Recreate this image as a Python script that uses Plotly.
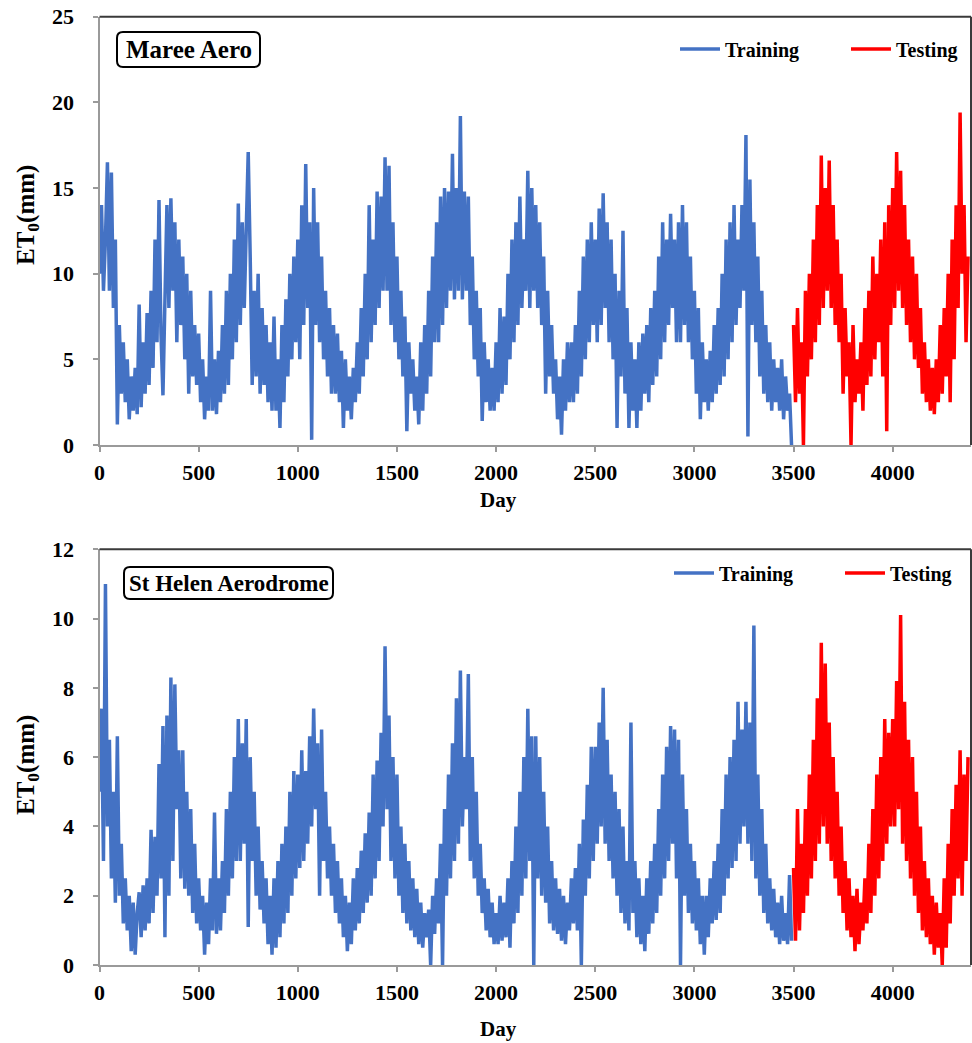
import plotly.graph_objects as go

W, H = 972, 1043

# ---------------- data (one value every 10 days) ----------------
STEP_DAYS = 10
TEST_START = 3500

maree_train = [
    10, 14, 9, 12, 16.5, 9, 15.9, 8, 12, 1.2,
    7, 3, 6, 2.5, 5, 1.5, 4, 2, 4.5, 1.8,
    8.2, 2.2, 6, 3, 7.7, 3.5, 9, 4.5, 12, 6,
    14.3, 6.5, 2.9, 7.5, 14, 8, 14.4, 9, 13, 6,
    12, 7, 11, 5, 10, 3, 9, 4, 7, 3.5,
    6.5, 2.5, 5, 1.5, 4, 2, 9, 2, 5, 1.8,
    5.5, 2.5, 7, 3, 9, 3.5, 10, 5, 12, 6,
    14.1, 7, 13, 8, 13.5, 17.1, 11, 3.5, 9, 4,
    10, 3, 8, 3.5, 7, 2.5, 6, 2, 7.5, 2,
    5, 1, 7, 2.5, 8.5, 4, 10, 5, 11, 6,
    12, 5, 14, 7, 16.4, 8, 13, 0.3, 15, 7,
    13, 6, 11, 5, 9, 4, 8, 3, 7, 3,
    6.5, 2.5, 5.5, 1, 5, 2, 4, 1.5, 4.5, 2.5,
    6, 3, 8, 4, 10, 5, 14, 6, 12, 7,
    14.8, 8, 14.5, 9, 16.8, 9, 16.3, 7, 13, 6,
    11, 5, 9, 4, 7.5, 0.8, 6, 3, 5, 2,
    4, 1.2, 6, 2, 7, 3, 9, 4, 11, 6,
    13, 6, 14.5, 7, 15, 8, 14.8, 9, 17, 8.5,
    15, 9, 19.2, 8.5, 14.8, 9, 14.5, 7, 11, 5,
    9, 4, 8, 1.4, 6, 2.5, 5, 2, 4.5, 2,
    6, 2.5, 8, 3, 7.5, 3.5, 10, 5, 12, 6,
    13, 7, 14.5, 8, 12, 9, 16, 8, 15, 9,
    14, 8, 13, 7, 11, 3, 9, 4, 7, 3,
    5, 1.5, 4, 0.6, 5, 2, 6, 2.5, 6, 2.5,
    7, 3, 9, 4, 11, 5, 12, 6, 13, 7,
    12, 6, 13.8, 7, 14.7, 8, 13, 6, 12, 5,
    10, 1, 9, 4, 12.5, 3, 8, 1, 6, 2,
    5, 1, 6, 2, 6.5, 3, 7, 2.5, 8, 3.5,
    9, 4, 11, 5, 13, 6, 12, 7, 13.5, 8,
    12, 6, 13, 6, 14, 7, 13, 6, 11, 5,
    9, 3, 8, 1.5, 6, 2.5, 5, 2, 5.5, 2.5,
    7, 3, 8, 3.5, 10, 4, 12, 5, 13, 6,
    14, 7, 12, 8, 14, 9, 18.1, 0.5, 15.5, 7,
    13, 6, 11, 4, 9, 3, 7, 2.5, 6, 2,
    5, 2.5, 4.5, 2, 5, 1.5, 4, 2, 3, 0,
]

maree_test = [
    7, 2.5, 8, 3, 6, 0, 9, 4, 10, 5,
    12, 6, 14, 7, 16.9, 8, 15, 9, 16.6, 8,
    14, 7, 12, 6, 10, 3, 8, 4, 6, 0,
    7, 2.5, 5, 3, 6, 2, 8, 3.5, 9, 4,
    11, 5, 10, 6, 12, 4, 13, 0.8, 14, 7,
    15, 8, 17.1, 9, 16, 8, 14, 7, 12, 6,
    11, 5, 10, 4.5, 8, 3, 6, 2.5, 5, 2,
    4.5, 1.8, 5, 2.5, 7, 3, 8, 4, 10, 2.5,
    12, 5, 14, 8, 19.4, 10, 14, 6, 11,
]

helen_train = [
    5, 7.4, 3, 11, 4, 6.5, 2.5, 5, 1.8, 6.6,
    2, 3.5, 1.2, 2.5, 1, 2, 0.4, 1.8, 0.3, 1.5,
    2.1, 0.8, 2.3, 1, 2.5, 1.2, 3.9, 1.5, 3.7, 2,
    5.8, 2.5, 6.9, 0.8, 7.2, 2, 8.3, 3, 8.1, 4.5,
    6.2, 2.5, 6.2, 2.2, 5, 2, 4.5, 1.5, 3.5, 1.2,
    2.5, 1, 2, 0.3, 1.8, 0.6, 2.5, 1, 4.4, 0.9,
    2.5, 1, 3, 1.5, 4.5, 2, 5, 2.5, 6, 3,
    7.1, 3, 6.4, 3.5, 7.1, 1.1, 6, 3, 5, 2,
    4, 1.6, 3, 1.2, 2.5, 0.6, 2, 0.3, 2.5, 0.5,
    3, 0.8, 3.5, 1.2, 4, 1.5, 5, 2, 5.6, 2.5,
    5.5, 2.8, 6.2, 3, 5.6, 3.5, 6.6, 4, 7.4, 4.5,
    6.4, 2, 6.8, 3, 5, 2.5, 4, 2, 3.5, 1.5,
    3, 1.2, 2.5, 0.8, 2, 0.4, 1.8, 0.6, 2.5, 1,
    2.8, 1.2, 3.3, 1.5, 3.8, 1.8, 4.4, 2, 5.5, 2.5,
    5.9, 3, 6.7, 4, 9.2, 4.5, 7.2, 3, 6, 2.5,
    5.5, 2, 4, 1.5, 3.5, 1.2, 3, 1, 2.5, 0.8,
    2.2, 0.6, 1.8, 0.5, 1.5, 0.8, 1.6, 0, 2, 0.9,
    2.5, 1.2, 3.5, 0, 4.5, 2, 5.5, 2.5, 6.4, 3,
    7.7, 3.5, 8.5, 4, 6, 4.5, 8.4, 3, 6, 2.5,
    5, 2, 3.5, 1.5, 2.5, 1, 2.2, 0.8, 1.8, 0.6,
    1.5, 0.6, 2, 0.7, 1.8, 0.8, 2.5, 0.5, 3, 1.2,
    4, 1.5, 5, 2, 6, 2.5, 7.4, 3, 6.6, 0,
    6.6, 2.5, 6, 2, 5, 1.8, 4, 1.2, 3, 1,
    2.5, 0.9, 2.2, 0.7, 2, 0.6, 1.8, 1, 2.5, 1.2,
    2.8, 1, 3.5, 0, 4.2, 2, 5.2, 2.5, 6.3, 3,
    6.3, 3.5, 7, 4, 8, 3.5, 6.5, 3, 5.5, 2.5,
    5, 2, 4.5, 1.5, 4, 1.2, 3, 1, 7, 1.5,
    3, 0.8, 2.5, 0.6, 2, 0.4, 2.5, 0.9, 3, 1.2,
    3.5, 1.5, 4.5, 2, 5.5, 2.5, 6.3, 3, 6.9, 3.5,
    6.8, 2.5, 6.5, 0, 5.5, 2, 4.5, 1.5, 3.5, 1.2,
    3, 1, 2.5, 0.6, 2, 0.3, 2, 0.8, 2.5, 1.2,
    3, 1.3, 3.5, 1.5, 4.5, 2, 5.5, 2.5, 6, 2.8,
    6.5, 3, 7.6, 3.5, 6.8, 4, 7.6, 3.5, 7, 3,
    9.8, 2.5, 5.5, 2, 4.5, 1.5, 3.5, 1.2, 2.5, 1,
    2.2, 0.8, 1.8, 0.6, 2, 0.7, 1.5, 0.6, 2.6, 0.7,
]

helen_test = [
    2.8, 0.7, 4.5, 1, 3.5, 1.5, 4.5, 2, 5.5, 2.5,
    6.5, 3, 7.7, 3.5, 9.3, 4, 8.7, 3.5, 7, 3,
    6, 2.5, 5, 2, 4, 1.5, 3, 1, 2.5, 0.8,
    2, 0.4, 2.2, 0.6, 1.8, 1, 2.5, 1.2, 3.5, 1.5,
    4.5, 2, 5.5, 2.5, 6, 3, 7.1, 3.5, 6.7, 4,
    7.1, 4, 8.2, 4.5, 10.1, 3.5, 7.6, 3, 6.5, 2.5,
    6, 2, 5, 1.5, 4, 1, 3, 0.8, 2.5, 0.6,
    2, 0.3, 1.8, 0.5, 1.5, 0, 2.5, 0.5, 3.5, 1.2,
    4.5, 2, 5.2, 2.5, 6.2, 2, 5.5, 3, 6,
]

station_names = ["Maree Aero", "St Helen Aerodrome"]
x_ticks = [0, 500, 1000, 1500, 2000, 2500, 3000, 3500, 4000]
y_ticks_top = [0, 5, 10, 15, 20, 25]
y_ticks_bottom = [0, 2, 4, 6, 8, 10, 12]

train_days = list(range(0, len(maree_train) * STEP_DAYS, STEP_DAYS))
test_days = list(range(TEST_START, TEST_START + len(maree_test) * STEP_DAYS, STEP_DAYS))

BLUE = "#4472C4"
RED = "#FF0000"
FONT = "Liberation Serif"
LW = 3.5


def px(x):
    return x / W


def py(y):
    return 1 - y / H


fig = go.Figure()

# top panel
fig.add_trace(go.Scatter(x=train_days, y=maree_train, mode="lines", name="Training",
                         line=dict(color=BLUE, width=LW), xaxis="x", yaxis="y", legend="legend"))
fig.add_trace(go.Scatter(x=test_days, y=maree_test, mode="lines", name="Testing",
                         line=dict(color=RED, width=LW), xaxis="x", yaxis="y", legend="legend"))
# bottom panel
fig.add_trace(go.Scatter(x=train_days, y=helen_train, mode="lines", name="Training",
                         line=dict(color=BLUE, width=LW), xaxis="x2", yaxis="y2", legend="legend2"))
fig.add_trace(go.Scatter(x=test_days, y=helen_test, mode="lines", name="Testing",
                         line=dict(color=RED, width=LW), xaxis="x2", yaxis="y2", legend="legend2"))

x_dom = [px(99.5), px(971)]
top_dom = [py(445), py(16.7)]
bot_dom = [py(965), py(549.3)]

tickfont = dict(family=FONT, size=22, color="black", weight="bold")
axis_common = dict(showgrid=False, zeroline=False, showline=True, linecolor="#9a9a9a", linewidth=2,
                   ticks="outside", ticklen=5, tickwidth=1.5, tickcolor="#9a9a9a", tickfont=tickfont,
                   automargin=False)

legend_font = dict(family=FONT, size=20, color="black", weight="bold")

fig.update_layout(
    width=W, height=H,
    margin=dict(l=0, r=0, t=0, b=0, autoexpand=False),
    paper_bgcolor="white", plot_bgcolor="white",
    xaxis=dict(domain=x_dom, anchor="y", range=[0, 4395], tickvals=x_ticks,
               ticklabelstandoff=2, **axis_common),
    yaxis=dict(domain=top_dom, anchor="x", range=[0, 25], tickvals=y_ticks_top,
               ticklabelstandoff=14, **axis_common),
    xaxis2=dict(domain=x_dom, anchor="y2", range=[0, 4395], tickvals=x_ticks,
                ticklabelstandoff=2, **axis_common),
    yaxis2=dict(domain=bot_dom, anchor="x2", range=[0, 12], tickvals=y_ticks_bottom,
                ticklabelstandoff=14, **axis_common),
    legend=dict(orientation="h", x=px(1017), xanchor="right", y=py(49), yanchor="middle",
                font=legend_font, bgcolor="rgba(0,0,0,0)", itemwidth=40, tracegroupgap=0,
                entrywidth=116),
    legend2=dict(orientation="h", x=px(1011), xanchor="right", y=py(573), yanchor="middle",
                 font=legend_font, bgcolor="rgba(0,0,0,0)", itemwidth=40, tracegroupgap=0,
                 entrywidth=116),
    showlegend=True,
)

# dark top / right frame lines
for xd, yd in (("x domain", "y domain"), ("x2 domain", "y2 domain")):
    fig.add_shape(type="line", xref=xd, yref=yd, x0=0, x1=1, y0=1, y1=1,
                  line=dict(color="#3a3a3a", width=2))
    fig.add_shape(type="line", xref=xd, yref=yd, x0=1, x1=1, y0=0, y1=1,
                  line=dict(color="#3a3a3a", width=2))


def rounded_box(x0, y0, x1, y1, r):
    pts = [
        f"M {px(x0 + r)},{py(y0)}", f"L {px(x1 - r)},{py(y0)}",
        f"Q {px(x1)},{py(y0)} {px(x1)},{py(y0 + r)}", f"L {px(x1)},{py(y1 - r)}",
        f"Q {px(x1)},{py(y1)} {px(x1 - r)},{py(y1)}", f"L {px(x0 + r)},{py(y1)}",
        f"Q {px(x0)},{py(y1)} {px(x0)},{py(y1 - r)}", f"L {px(x0)},{py(y0 + r)}",
        f"Q {px(x0)},{py(y0)} {px(x0 + r)},{py(y0)}", "Z",
    ]
    return " ".join(pts)


boxes = [(117, 32, 260, 67), (124, 567, 333, 599)]
box_font_sizes = [25, 23]
for name, (bx0, by0, bx1, by1), fs in zip(station_names, boxes, box_font_sizes):
    fig.add_shape(type="path", xref="paper", yref="paper", path=rounded_box(bx0, by0, bx1, by1, 6),
                  line=dict(color="black", width=2), fillcolor="white")
    fig.add_annotation(x=px((bx0 + bx1) / 2), y=py((by0 + by1) / 2), xref="paper", yref="paper",
                       text=name, showarrow=False, xanchor="center", yanchor="middle",
                       font=dict(family=FONT, size=fs, color="black", weight="bold"))

# axis titles
for ytitle_center, day_y in ((215, 500), (765, 1029)):
    fig.add_annotation(x=px(27), y=py(ytitle_center), xref="paper", yref="paper",
                       text="ET<sub>0</sub>(mm)", textangle=-90, showarrow=False,
                       xanchor="center", yanchor="middle",
                       font=dict(family=FONT, size=25, color="black", weight="bold"))
    fig.add_annotation(x=px(498), y=py(day_y), xref="paper", yref="paper",
                       text="Day", showarrow=False, xanchor="center", yanchor="middle",
                       font=dict(family=FONT, size=21, color="black", weight="bold"))

fig.write_html("out.html")
